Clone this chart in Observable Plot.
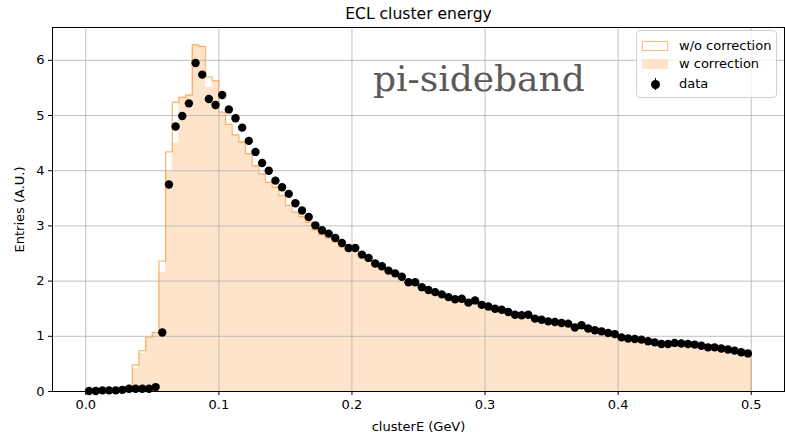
<!DOCTYPE html>
<html><head><meta charset="utf-8">
<script src="https://cdn.jsdelivr.net/npm/d3@7"></script>
<script src="https://cdn.jsdelivr.net/npm/@observablehq/plot@0.6"></script>
<style>
body{margin:0;background:#fff;font-family:"DejaVu Sans",sans-serif;}
#wrap{position:relative;width:785px;height:432px;}
#legend{position:absolute;left:636px;top:30px;width:139px;height:66px;border:1px solid #d0d0d0;border-radius:4px;background:rgba(255,255,255,0.8);font-size:13px;}
.row{position:absolute;left:0;height:16px;line-height:16px;}
.sw{position:absolute;left:5px;top:3px;width:26px;height:10px;box-sizing:border-box;}
.lt{position:absolute;left:42px;top:0;white-space:nowrap;}
#anno{position:absolute;left:373px;top:58px;font-family:"DejaVu Serif",serif;font-size:36px;color:#5a5a5a;white-space:nowrap;}
</style></head><body><div id="wrap"></div>
<script>
const title = "ECL cluster energy";
const xLabel = "clusterE (GeV)";
const yLabel = "Entries (A.U.)";
const xTicks = [0, 0.1, 0.2, 0.3, 0.4, 0.5];
const yTicks = [0, 1, 2, 3, 4, 5, 6];
const binLow = 0, binHigh = 0.5, nBins = 100;

// data points (bin centres)
const dataVals = [0.01,0.01,0.02,0.02,0.02,0.03,0.05,0.05,0.05,0.05,
0.08,1.07,3.75,4.80,4.99,5.22,5.95,5.74,5.30,5.19,
5.37,5.11,4.95,4.78,4.54,4.34,4.14,4.00,3.82,3.70,
3.58,3.41,3.28,3.16,3.01,2.92,2.86,2.78,2.69,2.60,
2.60,2.48,2.42,2.32,2.27,2.19,2.14,2.08,1.98,1.98,
1.89,1.84,1.80,1.76,1.71,1.67,1.68,1.61,1.65,1.57,
1.54,1.50,1.48,1.44,1.39,1.38,1.39,1.32,1.30,1.27,
1.26,1.24,1.23,1.16,1.20,1.14,1.11,1.09,1.06,1.04,
0.98,0.96,0.95,0.94,0.91,0.89,0.86,0.86,0.88,0.87,
0.86,0.85,0.83,0.80,0.80,0.78,0.76,0.74,0.71,0.69];

// histogram without correction (step outline)
const woCorr = [0,0,0,0,0,0,0,0.48,0.74,0.98,
1.07,2.36,4.34,5.24,5.33,5.37,6.28,6.25,5.70,5.63,
5.06,4.84,4.65,4.52,4.31,4.09,3.94,3.79,3.70,3.55,
3.37,3.25,3.17,3.07,2.93,2.84,2.78,2.71,2.62,2.55,
2.54,2.43,2.37,2.28,2.22,2.15,2.10,2.04,1.95,1.94,
1.86,1.81,1.77,1.73,1.68,1.64,1.65,1.58,1.62,1.54,
1.51,1.47,1.45,1.41,1.36,1.35,1.36,1.29,1.27,1.24,
1.23,1.21,1.20,1.13,1.17,1.11,1.08,1.06,1.03,1.00,
0.95,0.93,0.92,0.91,0.88,0.86,0.83,0.83,0.85,0.84,
0.83,0.82,0.80,0.77,0.77,0.75,0.73,0.71,0.68,0.66];

// histogram with correction (filled)
const wCorr = [0,0,0,0,0,0,0,0.42,0.69,0.96,
1.07,2.16,4.00,4.50,5.33,5.37,6.28,6.25,5.51,5.63,
5.06,4.84,4.65,4.52,4.31,4.09,3.94,3.79,3.70,3.55,
3.37,3.25,3.17,3.07,2.93,2.84,2.78,2.71,2.62,2.55,
2.54,2.43,2.37,2.28,2.22,2.15,2.10,2.04,1.95,1.94,
1.86,1.81,1.77,1.73,1.68,1.64,1.65,1.58,1.62,1.54,
1.51,1.47,1.45,1.41,1.36,1.35,1.36,1.29,1.27,1.24,
1.23,1.21,1.20,1.13,1.17,1.11,1.08,1.06,1.03,1.00,
0.95,0.93,0.92,0.91,0.88,0.86,0.83,0.83,0.85,0.84,
0.83,0.82,0.80,0.77,0.77,0.75,0.73,0.71,0.68,0.66];

const bw = (binHigh - binLow) / nBins;
const edges = d3.range(nBins + 1).map(i => binLow + i * bw);

const fillPts = wCorr.map((v, i) => ({x: edges[i], y: v}));
fillPts.push({x: edges[nBins], y: wCorr[nBins - 1]});

const outlinePts = [{x: edges[0], y: 0}];
woCorr.forEach((v, i) => { outlinePts.push({x: edges[i], y: v}); outlinePts.push({x: edges[i + 1], y: v}); });
outlinePts.push({x: edges[nBins], y: 0});

const points = dataVals.map((v, i) => ({x: (edges[i] + edges[i + 1]) / 2, y: v}));

const chart = Plot.plot({
  width: 785, height: 432,
  marginLeft: 52, marginRight: 1, marginTop: 27, marginBottom: 41,
  style: {fontFamily: "DejaVu Sans", fontSize: "13px", color: "black", background: "white"},
  x: {domain: [-0.025, 0.525]},
  y: {domain: [0, 6.594]},
  marks: [
    Plot.areaY(fillPts, {x: "x", y: "y", curve: "step-after", fill: "#ffe4cc"}),
    Plot.line(outlinePts, {x: "x", y: "y", stroke: "#ff7f0e", strokeOpacity: 0.55, strokeWidth: 1.3}),
    Plot.gridX(xTicks, {stroke: "#b0b0b0", strokeOpacity: 1, strokeWidth: 0.8}),
    Plot.gridY(yTicks, {stroke: "#b0b0b0", strokeOpacity: 1, strokeWidth: 0.8}),
    Plot.dot(points, {x: "x", y: "y", r: 4.2, fill: "black", stroke: "none"}),
    Plot.frame({stroke: "black", strokeWidth: 1}),
    Plot.axisX(xTicks, {tickFormat: ".1f", tickSize: 4, tickPadding: 4, label: xLabel, labelAnchor: "center", labelArrow: "none", labelOffset: 39}),
    Plot.axisY(yTicks, {tickFormat: "d", tickSize: 4, tickPadding: 4, label: yLabel, labelAnchor: "center", labelArrow: "none", labelOffset: 38}),
    Plot.text([title], {frameAnchor: "top", dy: -20, fontSize: 15.6, text: d => d})
  ]
});
const wrap = document.getElementById("wrap");
wrap.appendChild(chart);

wrap.insertAdjacentHTML("beforeend", `
<div id="anno">pi-sideband</div>
<div id="legend">
  <div class="row" style="top:7px"><div class="sw" style="border:1.3px solid rgba(255,127,14,0.55);background:#fff"></div><div class="lt">w/o correction</div></div>
  <div class="row" style="top:25px"><div class="sw" style="background:#ffe4cc"></div><div class="lt">w correction</div></div>
  <div class="row" style="top:45px"><div style="position:absolute;left:17.5px;top:2px;width:1px;height:12px;background:#000"></div><div style="position:absolute;left:13.5px;top:4px;width:9px;height:9px;border-radius:50%;background:#000"></div><div class="lt">data</div></div>
</div>`);
</script>
</body></html>
